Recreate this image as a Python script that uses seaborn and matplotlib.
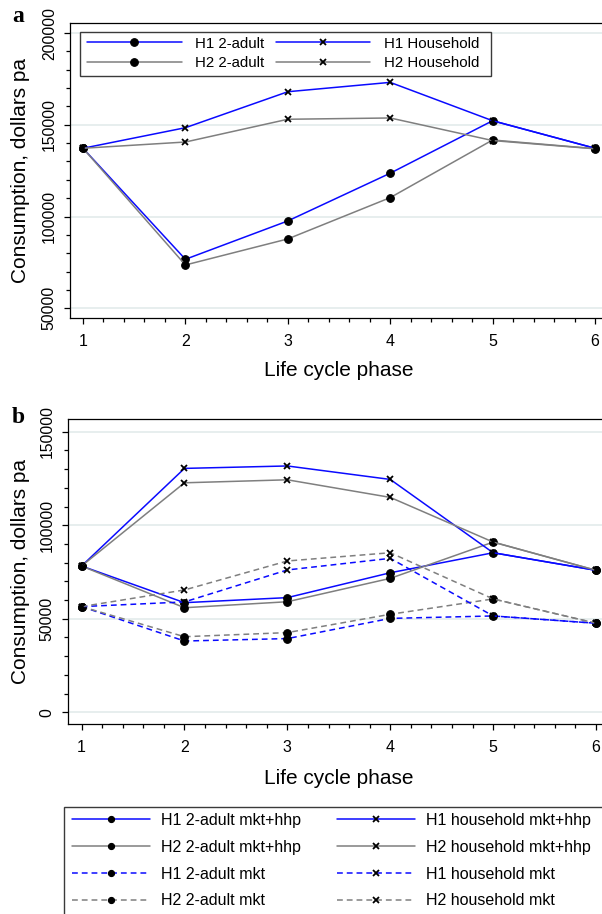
import matplotlib
matplotlib.use('Agg')
import matplotlib.pyplot as plt
from matplotlib.patches import Rectangle
from matplotlib.ticker import MultipleLocator, FixedLocator
import seaborn as sns

sns.set_style('white')
plt.rcParams['font.family'] = ['Liberation Sans', 'DejaVu Sans']
plt.rcParams['text.color'] = 'black'
plt.rcParams['axes.labelcolor'] = 'black'
plt.rcParams['xtick.color'] = 'black'
plt.rcParams['ytick.color'] = 'black'

# ---------------- data ----------------
phase = [1, 2, 3, 4, 5, 6]

# panel a
a_h1_adult = [137200, 76700, 97600, 123600, 152200, 137200]
a_h2_adult = [137200, 73600, 87800, 110300, 141700, 137000]
a_h1_house = [137200, 148400, 168000, 173100, 152200, 137200]
a_h2_house = [137200, 140600, 153000, 153700, 141400, 136900]
a_labels = ['H1 2-adult', 'H2 2-adult', 'H1 Household', 'H2 Household']

# panel b
b_h1_adult_mh = [78200, 58600, 61300, 74600, 85300, 75900]
b_h2_adult_mh = [78200, 55900, 59100, 71600, 91000, 75900]
b_h1_adult_m = [56500, 38100, 39400, 50200, 51500, 47600]
b_h2_adult_m = [56500, 40400, 42600, 52400, 60600, 47600]
b_h1_house_mh = [78200, 130400, 131700, 124500, 85300, 75900]
b_h2_house_mh = [78200, 122700, 124300, 114900, 91000, 75900]
b_h1_house_m = [56500, 59000, 76100, 82300, 51500, 47600]
b_h2_house_m = [56500, 65400, 80900, 85300, 60600, 47600]
b_labels = ['H1 2-adult mkt+hhp', 'H2 2-adult mkt+hhp', 'H1 2-adult mkt', 'H2 2-adult mkt',
            'H1 household mkt+hhp', 'H2 household mkt+hhp', 'H1 household mkt', 'H2 household mkt']

a_ticks = [50000, 100000, 150000, 200000]
b_ticks = [0, 50000, 100000, 150000]

# ---------------- styles ----------------
BLUE = '#0a0aff'
GRAY = '#7f7f7f'
DASH = (0, (3.8, 2.6))
LW = 1.1

W, H = 602, 914
fig = plt.figure(figsize=(W / 100, H / 100), dpi=100)


def box(l, t, r, b):
    return [l / W, 1 - b / H, (r - l) / W, (b - t) / H]


ax_a = fig.add_axes(box(70, 23, 608, 318))
ax_b = fig.add_axes(box(68, 419.3, 609, 724.3))


def draw(ax, vals, label, color, marker, ls):
    if marker == 'o':
        ms, mew = 5.5, 0.8
    else:
        ms, mew = 4.6, 1.3
    sns.lineplot(x=phase, y=vals, ax=ax, color=color, linestyle=ls, linewidth=LW,
                 marker=marker, markersize=ms, markerfacecolor='black',
                 markeredgecolor='black', markeredgewidth=mew, label=label)


# panel a series
draw(ax_a, a_h1_adult, a_labels[0], BLUE, 'o', '-')
draw(ax_a, a_h2_adult, a_labels[1], GRAY, 'o', '-')
draw(ax_a, a_h1_house, a_labels[2], BLUE, 'x', '-')
draw(ax_a, a_h2_house, a_labels[3], GRAY, 'x', '-')

# panel b series
b_vals = [b_h1_adult_mh, b_h2_adult_mh, b_h1_adult_m, b_h2_adult_m,
          b_h1_house_mh, b_h2_house_mh, b_h1_house_m, b_h2_house_m]
b_styles = [(BLUE, 'o', '-'), (GRAY, 'o', '-'), (BLUE, 'o', DASH), (GRAY, 'o', DASH),
            (BLUE, 'x', '-'), (GRAY, 'x', '-'), (BLUE, 'x', DASH), (GRAY, 'x', DASH)]
for vals, lab, (c, m, ls) in zip(b_vals, b_labels, b_styles):
    draw(ax_b, vals, lab, c, m, ls)


def style_axes(ax, xlim, ylim, yticks):
    ax.set_xlim(*xlim)
    ax.set_ylim(*ylim)
    ax.xaxis.set_major_locator(FixedLocator(phase))
    ax.xaxis.set_minor_locator(MultipleLocator(0.2))
    ax.yaxis.set_major_locator(FixedLocator(yticks))
    ax.yaxis.set_minor_locator(MultipleLocator(10000))
    ax.set_yticklabels([str(t) for t in yticks])
    ax.set_xticklabels([str(p) for p in phase])
    ax.tick_params(which='both', direction='out', color='black', width=0.9,
                   bottom=True, left=True, top=False, right=False)
    ax.tick_params(which='major', length=4.5)
    ax.tick_params(which='minor', length=3.0)
    ax.tick_params(axis='x', which='major', labelsize=11.5, pad=7, labelcolor='black')
    ax.tick_params(axis='y', which='major', labelsize=11.3, pad=5, labelcolor='black')
    plt.setp(ax.get_yticklabels(), rotation=90, va='center')
    for s in ax.spines.values():
        s.set_color('black')
        s.set_linewidth(0.9)
    ax.grid(axis='y', which='major', color='#e3ebeb', linewidth=1.2)
    ax.grid(axis='x', visible=False)
    ax.set_axisbelow(True)
    ax.set_xlabel('Life cycle phase', fontsize=15, color='black')
    ax.set_ylabel('Consumption, dollars pa', fontsize=15, color='black')


style_axes(ax_a, (0.873, 6.127), (44715, 205450), a_ticks)
style_axes(ax_b, (0.868, 6.126), (-6430, 156650), b_ticks)

ax_a.xaxis.set_label_coords(0.5, -0.146)
ax_b.xaxis.set_label_coords(0.5, -0.146)
ax_a.yaxis.set_label_coords((30 - 70) / 538, 0.5)
ax_b.yaxis.set_label_coords((30 - 68) / 541, 0.5)

# panel a legend
h_a, l_a = ax_a.get_legend_handles_labels()
ax_a.legend(h_a, l_a, ncol=2, loc='upper left', bbox_to_anchor=(87 / W, 1 - 36.5 / H),
            bbox_transform=fig.transFigure, frameon=False, borderpad=0, borderaxespad=0,
            handlelength=6.3, handletextpad=0.9, columnspacing=0.75, labelspacing=0.39,
            fontsize=10.8, markerscale=1.0)
ax_a.add_artist(Rectangle((80 / W, 1 - 76 / H), (491 - 80) / W, (76 - 31.7) / H,
                          transform=fig.transFigure, facecolor='white', edgecolor='#3a3a3a',
                          linewidth=1.0, clip_on=False, zorder=4))

# panel b legend
h_b, l_b = ax_b.get_legend_handles_labels()
ax_b.get_legend().remove()
fig.legend(h_b, l_b, ncol=2, loc='upper left', bbox_to_anchor=(72 / W, 1 - 813 / H),
           bbox_transform=fig.transFigure, frameon=False, borderpad=0, borderaxespad=0,
           handlelength=4.9, handletextpad=0.7, columnspacing=2.2, labelspacing=0.74,
           fontsize=11.5, markerscale=0.8)
fig.add_artist(Rectangle((64 / W, -0.05), 0.99, (1 - 806.7 / H) + 0.05,
                         transform=fig.transFigure, facecolor='white', edgecolor='#3a3a3a',
                         linewidth=1.0, zorder=1))

# panel letters
fig.text(12 / W, 1 - 22 / H, 'a', fontsize=17, fontweight='bold',
         family=['Liberation Serif', 'DejaVu Serif'], va='baseline', ha='left')
fig.text(12 / W, 1 - 423 / H, 'b', fontsize=17, fontweight='bold',
         family=['Liberation Serif', 'DejaVu Serif'], va='baseline', ha='left')

fig.savefig('out.png', dpi=100, facecolor='white')
